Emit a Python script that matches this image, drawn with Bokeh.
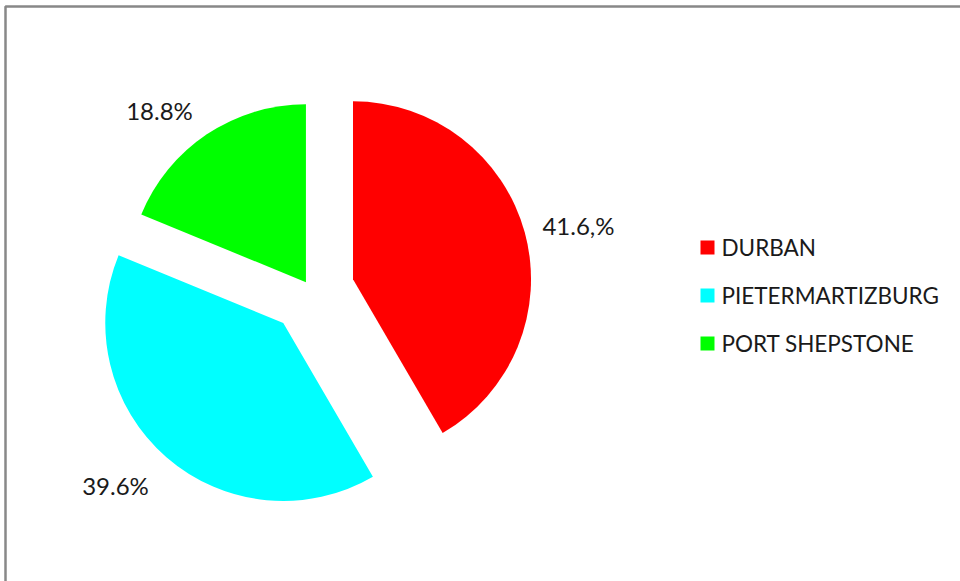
import math
from bokeh.plotting import figure
from bokeh.models import Range1d, ColumnDataSource
from bokeh.core.properties import value
from bokeh.embed import file_html
from bokeh.resources import INLINE

# ---- data ----
categories = ["DURBAN", "PIETERMARTIZBURG", "PORT SHEPSTONE"]
shares = [41.6, 39.6, 18.8]
labels = ["41.6,%", "39.6%", "18.8%"]
colors = ["#FF0000", "#00FFFF", "#00FF00"]

# ---- layout / style (screen px, converted to data) ----
W, H = 960, 581
def X(sx):
    return sx
def Y(sy):
    return H - sy

cx, cy = 311, 290          # pie centre (screen)
R = 178
explode = [43, 43, 10]
label_pos = [(578, 225), (115, 485), (159, 110)]
FONT = "Lato"

p = figure(width=W, height=H, output_backend="svg", toolbar_location=None,
           x_range=Range1d(0, W), y_range=Range1d(0, H), min_border=0)
p.axis.visible = False
p.grid.visible = False
p.outline_line_color = None
p.background_fill_color = "white"
p.border_fill_color = "white"

total = sum(shares)
xs, ys, starts, ends = [], [], [], []
acc = 0.0
for s, e in zip(shares, explode):
    t0 = acc / total * 2 * math.pi
    t1 = (acc + s) / total * 2 * math.pi
    acc += s
    mid = (t0 + t1) / 2
    sx = cx + e * math.sin(mid)
    sy = cy - e * math.cos(mid)
    xs.append(X(sx))
    ys.append(Y(sy))
    starts.append(math.pi / 2 - t1)
    ends.append(math.pi / 2 - t0)

src = ColumnDataSource(dict(x=xs, y=ys, start=starts, end=ends, color=colors))
p.wedge(x="x", y="y", radius=R, start_angle="start", end_angle="end",
        direction="anticlock", fill_color="color", line_color=None, source=src)

lsrc = ColumnDataSource(dict(x=[X(a) for a, b in label_pos],
                             y=[Y(b) for a, b in label_pos], t=labels))
p.text(x="x", y="y", text="t", source=lsrc, text_align="center",
       text_baseline="middle", text_font=value(FONT), text_font_size="24px",
       text_color="#1a1a1a")

# legend
leg_y = [247, 295, 343]
p.rect(x=[X(707)] * 3, y=[Y(v) for v in leg_y], width=14, height=14,
       fill_color=colors, line_color=None)
p.text(x=[X(721)] * 3, y=[Y(v) for v in leg_y], text=categories,
       text_align="left", text_baseline="middle", text_font=value(FONT),
       text_font_size="22.5px", text_color="#1a1a1a")

# chart border (top & left visible)
p.line(x=[X(5), X(5), X(970)], y=[Y(700), Y(6), Y(6)], line_color="#888888",
       line_width=2.5)

open("out.html", "w").write(file_html(p, INLINE))
